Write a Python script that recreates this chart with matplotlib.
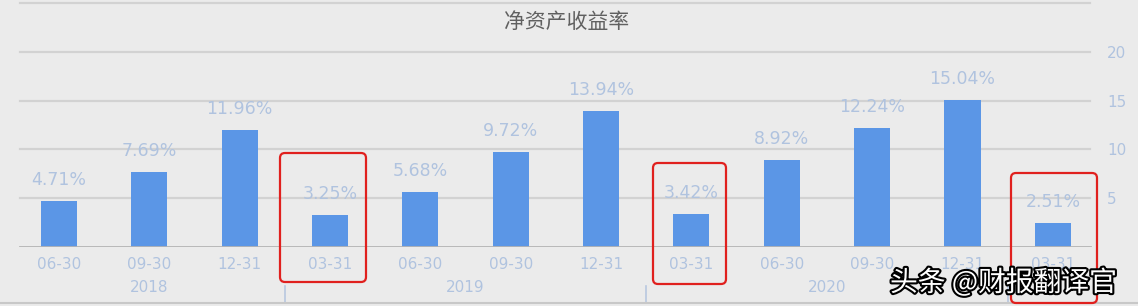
import matplotlib
matplotlib.use("Agg")
import matplotlib.pyplot as plt
from matplotlib.patches import FancyBboxPatch
from matplotlib.transforms import IdentityTransform, blended_transform_factory
import matplotlib.patheffects as pe
from matplotlib.lines import Line2D

plt.rcParams['font.family'] = ['DejaVu Sans', 'Noto Sans CJK SC']

# ---- data ----
categories = ["06-30", "09-30", "12-31", "03-31", "06-30", "09-30",
              "12-31", "03-31", "06-30", "09-30", "12-31", "03-31"]
roe_values = [4.71, 7.69, 11.96, 3.25, 5.68, 9.72, 13.94, 3.42, 8.92, 12.24, 15.04, 2.51]
years = ["2018", "2019", "2020"]
year_centers = [1.0, 4.5, 8.5]
year_separators = [2.5, 6.5, 10.5]
y_ticks = [5, 10, 15, 20]
title = "净资产收益率"
watermark = "头条 @财报翻译官"

BG = "#ebebeb"
BAR = "#5b96e6"
LBL = "#b0c3df"
GRID = "#d2d2d2"

W, H = 1138, 306
fig = plt.figure(figsize=(W / 100, H / 100), dpi=100, facecolor=BG)

ax_l, ax_r, ax_b, ax_t = 13.8, 1098, 247, 3
ax = fig.add_axes([ax_l / W, (H - ax_b) / H, (ax_r - ax_l) / W, (ax_b - ax_t) / H])
ax.set_facecolor(BG)
ax.set_xlim(-0.5, len(categories) - 0.5)
ax.set_ylim(0, 25)
for s in ax.spines.values():
    s.set_visible(False)

gx0 = (20 - ax_l) / (ax_r - ax_l)
gx1 = (1090 - ax_l) / (ax_r - ax_l)
for y in [5, 10, 15, 20, 25]:
    ax.axhline(y, gx0, gx1, color=GRID, lw=1.6, zorder=0, clip_on=False)
ax.axhline(0, gx0, gx1, color="#b4b4b4", lw=2, zorder=3)

x = list(range(len(categories)))
ax.bar(x, roe_values, width=0.4, color=BAR, zorder=2)

for xi, v in zip(x, roe_values):
    ax.annotate(f"{v:.2f}%", (xi, v), xytext=(0, 11.5), textcoords="offset points",
                ha="center", va="baseline", fontsize=12.5, color=LBL)

ax.set_xticks(x)
ax.set_xticklabels(categories, fontsize=11, color=LBL)
ax.tick_params(axis="x", length=0, pad=7)
ax.yaxis.tick_right()
ax.set_yticks(y_ticks)
ax.set_yticklabels([str(t) for t in y_ticks], fontsize=11, color=LBL)
ax.tick_params(axis="y", length=0, pad=6.5)

tr = blended_transform_factory(ax.transData, ax.transAxes)
px = ax_b - ax_t
for yc, yl in zip(year_centers, years):
    ax.text(yc, (ax_b - 288) / px, yl, transform=tr, ha="center", va="center",
            fontsize=11, color=LBL)
for xs in year_separators:
    ax.add_line(Line2D([xs, xs], [(ax_b - 286) / px, (ax_b - 303) / px], transform=tr,
                       color="#b8c8e0", lw=1.2, clip_on=False))

fig.text(567 / W, 1 - 22 / H, title, ha="center", va="center", fontsize=15,
         color="#606060", family=["Noto Sans CJK SC", "DejaVu Sans"])

# bottom border
fig.add_artist(Line2D([0, 1], [1 - 303 / H, 1 - 303 / H], transform=fig.transFigure,
                      color="#c8c8c8", lw=1.5))

# red highlight boxes (pixel coords)
boxes = [(280, 153, 366, 282), (653, 163, 726, 284), (1011, 173, 1097, 303)]
for (x0, y0, x1, y1) in boxes:
    p = FancyBboxPatch((x0, H - y1), x1 - x0, y1 - y0,
                       boxstyle="round,pad=0,rounding_size=5",
                       transform=IdentityTransform(), fill=False,
                       edgecolor="#e0201e", lw=1.6, zorder=10)
    fig.add_artist(p)

fig.text(890 / W, 1 - 283 / H, watermark, ha="left", va="center", fontsize=20,
         color="white", family=["Noto Sans CJK SC", "DejaVu Sans"], zorder=20,
         path_effects=[pe.Stroke(linewidth=3, foreground="black"), pe.Normal()])

fig.savefig("out.png", dpi=100, facecolor=BG)
